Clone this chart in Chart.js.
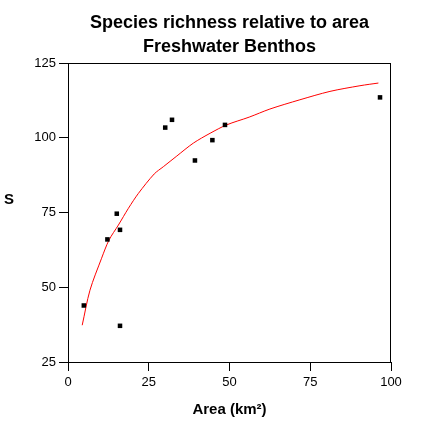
<!DOCTYPE html>
<html>
<head>
<meta charset="utf-8">
<script src="https://cdn.jsdelivr.net/npm/chart.js@4"></script>
<style>
  body { margin: 0; background: #fff; }
  canvas { display: block; }
</style>
</head>
<body>
<canvas id="chart" width="422" height="422"></canvas>
<script>
// Species-area data
const areaKm2 = [4.9, 12.2, 15.1, 16.1, 16.1, 30.1, 32.2, 39.3, 44.7, 48.6, 96.6];
const richness = [43.9, 66.0, 74.6, 69.2, 37.1, 103.4, 106.0, 92.4, 99.2, 104.3, 113.5];

// Fitted curve (red line)
const fitArea = [4.4, 6.8, 10.4, 12.7, 15.6, 18.7, 21.8, 26.7, 29.5, 33.7, 38.8, 44.0, 49.1, 56.1, 62.5, 71.8, 81.1, 90.4, 96.1];
const fitS = [37.3, 49.0, 59.7, 65.8, 70.8, 76.4, 81.4, 87.9, 90.3, 93.9, 98.2, 101.5, 104.3, 106.9, 109.6, 112.7, 115.5, 117.4, 118.3];

const xTicks = [0, 25, 50, 75, 100];
const yTicks = [25, 50, 75, 100, 125];

const titleLines = ['Species richness relative to area', 'Freshwater Benthos'];
const xTitle = 'Area (km\u00b2)';
const yTitle = 'S';

const FONT = 'Arial, "Liberation Sans", sans-serif';

// Titles and the box frame around the plot
const decorations = {
    id: 'decorations',
    afterDraw(chart) {
        const { ctx, chartArea: a } = chart;
        const cx = (a.left + a.right) / 2;
        ctx.save();
        ctx.strokeStyle = '#000';
        ctx.lineWidth = 1;
        ctx.strokeRect(Math.round(a.left) + 0.5, Math.round(a.top) + 0.5,
            Math.round(a.right - a.left) - 1, Math.round(a.bottom - a.top));

        ctx.fillStyle = '#000';
        ctx.textAlign = 'center';
        ctx.textBaseline = 'middle';
        ctx.font = 'bold 18px ' + FONT;
        ctx.fillText(titleLines[0], cx, 23);
        ctx.fillText(titleLines[1], cx, 47);

        ctx.font = 'bold 15px ' + FONT;
        ctx.fillText(xTitle, cx, 410);
        ctx.fillText(yTitle, 9, 200);
        ctx.restore();
    }
};

new Chart(document.getElementById('chart'), {
    type: 'scatter',
    data: {
        datasets: [
            {
                label: 'Fit',
                data: fitArea.map((a, i) => ({ x: a, y: fitS[i] })),
                showLine: true,
                borderColor: '#ff0000',
                borderWidth: 1,
                pointRadius: 0,
                tension: 0.3,
                order: 2
            },
            {
                label: 'Observed',
                data: areaKm2.map((a, i) => ({ x: a, y: richness[i] })),
                pointStyle: 'rect',
                pointRadius: 3.2,
                backgroundColor: '#000',
                borderColor: '#000',
                borderWidth: 0,
                order: 1
            }
        ]
    },
    options: {
        responsive: false,
        animation: false,
        layout: { padding: { top: 63, right: 31, left: 0, bottom: 0 } },
        plugins: {
            legend: { display: false },
            tooltip: { enabled: false }
        },
        scales: {
            x: {
                type: 'linear',
                min: 0,
                max: 100,
                afterBuildTicks: (s) => { s.ticks = xTicks.map(v => ({ value: v })); },
                afterFit: (s) => { s.height = 60; },
                border: { color: '#000' },
                grid: { drawOnChartArea: false, tickLength: 9, color: '#000' },
                ticks: { color: '#000', padding: 4, font: { family: FONT, size: 13 } }
            },
            y: {
                type: 'linear',
                min: 25,
                max: 125,
                afterBuildTicks: (s) => { s.ticks = yTicks.map(v => ({ value: v })); },
                afterFit: (s) => { s.width = 68; },
                border: { color: '#000' },
                grid: { drawOnChartArea: false, tickLength: 9, color: '#000' },
                ticks: { color: '#000', padding: 3, font: { family: FONT, size: 13 } }
            }
        }
    },
    plugins: [decorations]
});
</script>
</body>
</html>
